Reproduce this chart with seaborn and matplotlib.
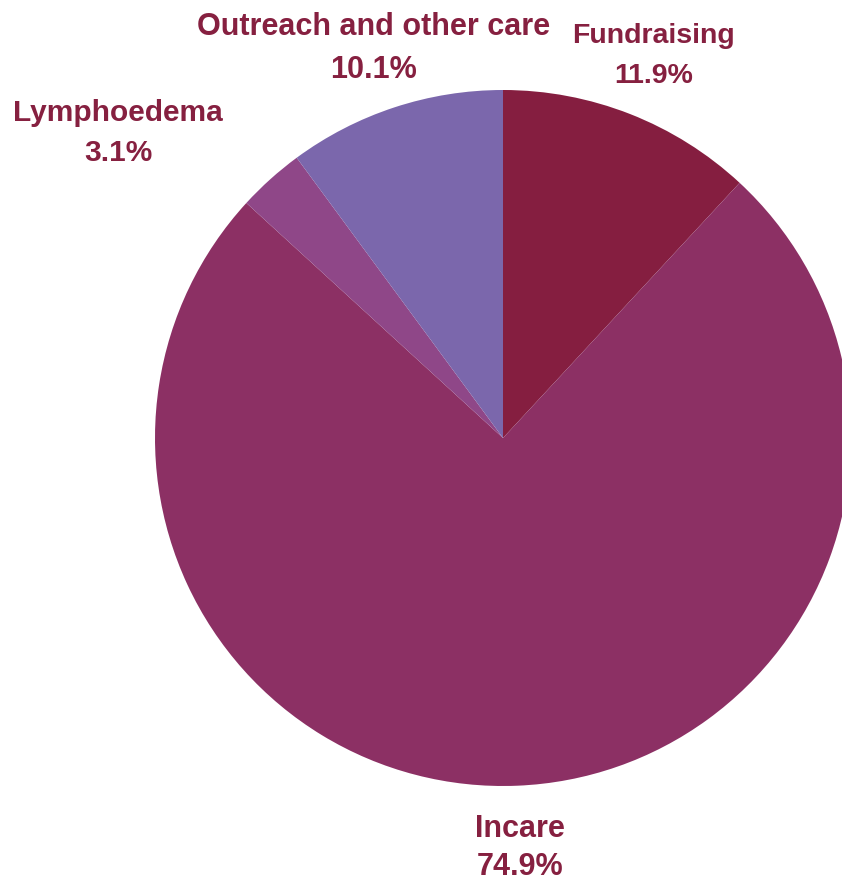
import matplotlib
matplotlib.use("Agg")
import matplotlib.pyplot as plt
import seaborn as sns

categories = ["Fundraising", "Incare", "Lymphoedema", "Outreach and other care"]
values = [11.9, 74.9, 3.1, 10.1]
pct_labels = ["11.9%", "74.9%", "3.1%", "10.1%"]
colors = ["#851E40", "#8C3064", "#8F4788", "#7B67AC"]

sns.set_theme(style="white")
plt.rcParams['font.family'] = ['Liberation Sans', 'DejaVu Sans']

W, H = 842, 882
fig = plt.figure(figsize=(W / 100, H / 100), dpi=100)
ax = fig.add_axes([0, 0, 1, 1])

ax.pie(values, colors=colors, startangle=90, counterclock=False,
       center=(503, H - 438), radius=348,
       wedgeprops=dict(linewidth=0, antialiased=True))
ax.set_xlim(0, W)
ax.set_ylim(0, H)
ax.set_aspect("equal")
ax.axis("off")

txt_color = "#862040"
# label anchors in pixel coordinates: (x center, baseline of name, baseline of pct, font size)
label_pos = {
    "Fundraising": (654, 43, 83, 20.5),
    "Incare": (520, 837, 875, 22),
    "Lymphoedema": (118, 121, 161, 21.5),
    "Outreach and other care": (374, 35, 78, 22),
}
for cat, pct in zip(categories, pct_labels):
    x, y1, y2, fs = label_pos[cat]
    ax.text(x, H - y1, cat, ha="center", va="baseline", fontsize=fs,
            fontweight="bold", color=txt_color)
    ax.text(x, H - y2, pct, ha="center", va="baseline", fontsize=fs,
            fontweight="bold", color=txt_color)

fig.savefig("out.png", dpi=100, facecolor="white")
